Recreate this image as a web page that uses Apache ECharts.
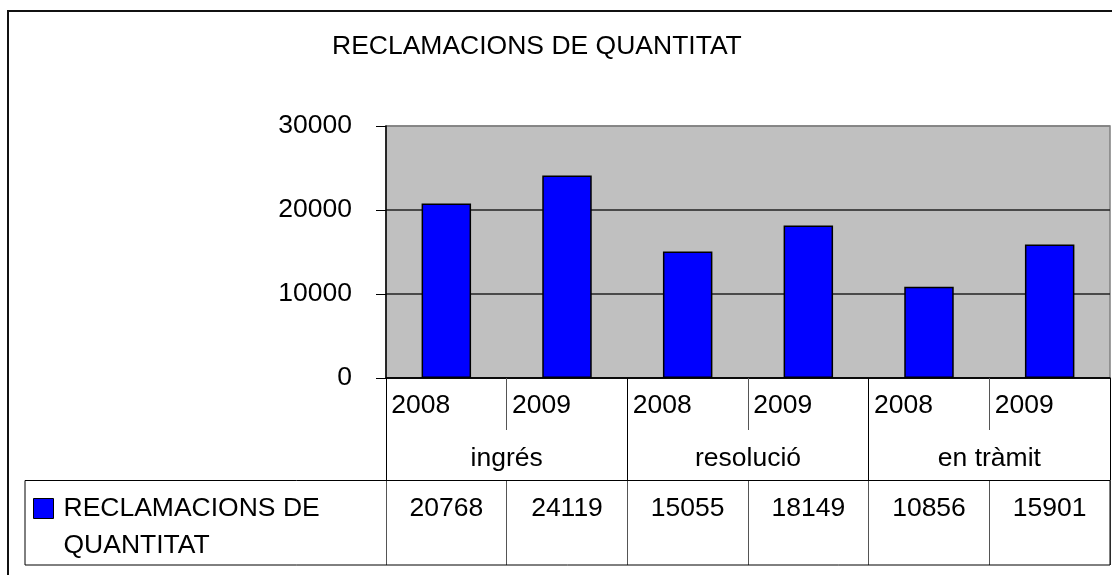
<!DOCTYPE html>
<html>
<head>
<meta charset="utf-8">
<script src="https://cdn.jsdelivr.net/npm/echarts@6/dist/echarts.min.js"></script>
<style>
  html, body { margin: 0; padding: 0; background: #fff; }
  #frame { position: absolute; left: 7px; top: 10px; width: 1110px; height: 570px; border-top: 2px solid #111; border-left: 2px solid #111; }
  #chart { position: absolute; left: 0; top: 0; width: 1112px; height: 575px; }
</style>
</head>
<body>
<div id="frame"></div>
<div id="chart"></div>
<script>
const seriesName = 'RECLAMACIONS DE QUANTITAT';
const years = ['2008', '2009', '2008', '2009', '2008', '2009'];
const groups = ['ingrés', 'resolució', 'en tràmit'];
const values = [20768, 24119, 15055, 18149, 10856, 15901];
const yTicks = { min: 0, max: 30000, interval: 10000 };

const FONT = 'Liberation Sans, Arial, sans-serif';
const FS = 26.5;

const chart = echarts.init(document.getElementById('chart'), null, { renderer: 'canvas' });
chart.setOption({
    animation: false,
    textStyle: { fontFamily: FONT },
    title: {
        text: 'RECLAMACIONS DE QUANTITAT', left: 332, top: 33, padding: 0,
        textStyle: { fontFamily: FONT, fontSize: FS, fontWeight: 'normal', color: '#000' }
    },
    legend: {
        data: [seriesName], left: 33, top: 453, padding: 0, selectedMode: false,
        icon: 'rect', itemWidth: 20, itemHeight: 20,
        itemStyle: { color: '#0000ff', borderColor: '#000', borderWidth: 1 },
        formatter: () => '\nRECLAMACIONS DE\nQUANTITAT',
        textStyle: { fontFamily: FONT, fontSize: FS, color: '#000', lineHeight: 37, padding: [0, 0, 0, 5] }
    },
    grid: {
        left: 386, right: 2, top: 126, bottom: 197, show: true,
        backgroundColor: '#c0c0c0', borderColor: '#808080', borderWidth: 1.5
    },
    graphic: [
        { type: 'rect', shape: { x: 25, y: 480.5, width: 1085, height: 84.5 }, style: { fill: 'none', stroke: '#000', lineWidth: 1 }, z: 10 }
    ],
    xAxis: [
        {
            type: 'category', data: years, position: 'bottom',
            axisLine: { show: true, lineStyle: { color: '#000', width: 1.5 } },
            axisTick: { show: true, interval: 0, length: 52, lineStyle: { color: '#555' } },
            axisLabel: {
                interval: 0, hideOverlap: false, margin: 14, color: '#000', fontSize: FS, fontFamily: FONT,
                formatter: v => '{a|' + v + '}',
                rich: { a: { width: 110, align: 'left', fontSize: FS, fontFamily: FONT, color: '#000' } }
            }
        },
        {
            type: 'category', data: groups, position: 'bottom',
            axisLine: { show: false },
            axisTick: { show: true, interval: 0, length: 187, lineStyle: { color: '#000' } },
            axisLabel: { interval: 0, margin: 67, color: '#000', fontSize: FS, fontFamily: FONT }
        },
        {
            type: 'category', data: years, position: 'bottom', offset: 102,
            axisLine: { show: true, lineStyle: { color: '#000', width: 1 } },
            axisTick: { show: true, interval: 0, length: 85, lineStyle: { color: '#555' } },
            axisLabel: { interval: 0, margin: 15, color: '#000', fontSize: FS, fontFamily: FONT, formatter: (v, i) => String(values[i]) }
        }
    ],
    yAxis: {
        type: 'value', min: yTicks.min, max: yTicks.max, interval: yTicks.interval,
        axisLine: { show: true, lineStyle: { color: '#000', width: 1.5 } },
        axisTick: { show: true, length: 10, lineStyle: { color: '#000' } },
        axisLabel: { margin: 34, color: '#000', fontSize: FS, fontFamily: FONT, formatter: v => String(v) },
        splitLine: { show: true, lineStyle: { color: ['#000', '#222', '#222', '#808080'], width: 1.5 } }
    },
    series: [{
        name: seriesName, type: 'bar', xAxisIndex: 0, data: values, barWidth: '41%',
        itemStyle: { color: '#0000ff', borderColor: '#000', borderWidth: 1.5 }
    }]
});
</script>
</body>
</html>
